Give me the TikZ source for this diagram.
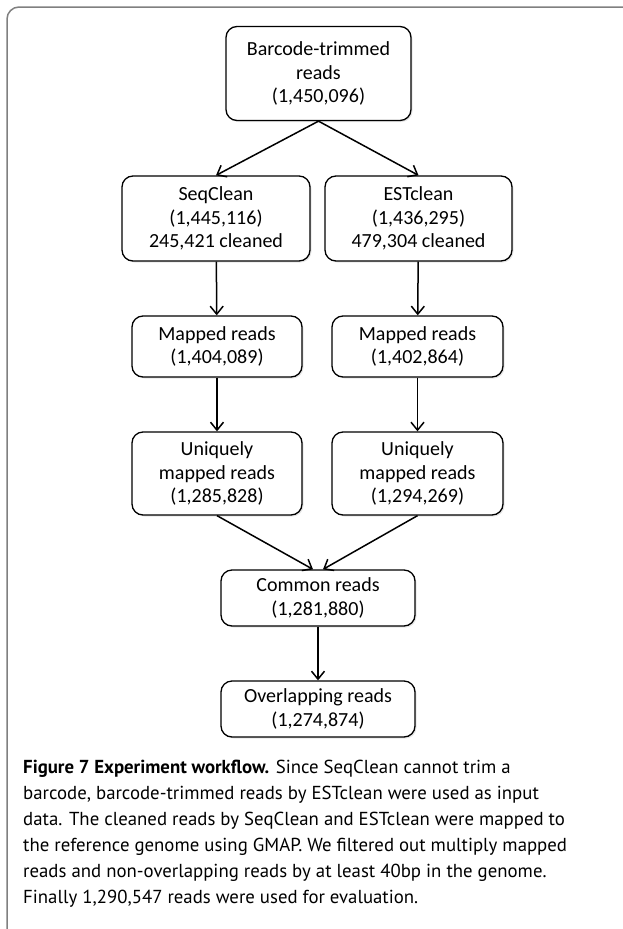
\documentclass[tikz,border=0pt]{standalone}
\usepackage{fontspec}
\setmainfont{Carlito}
\newfontfamily\captionfamily{PT Sans}
\usetikzlibrary{arrows.meta,shadows}

\begin{document}
\begin{tikzpicture}[x=1pt,y=-1pt]

%
% Styles
%
\tikzstyle{readbox}  = [draw=black,line width=1.3pt,rounded corners=11pt,fill=white,
                        align=center,inner sep=0pt,font=\fontsize{20}{23.7}\selectfont,
                        drop shadow={opacity=0.2,shadow xshift=1.5pt,shadow yshift=-1.5pt}]
\tikzstyle{flow}     = [-{Straight Barb[length=8pt,width=13pt,line width=1.5pt]},line width=1.5pt]
\tikzstyle{frame}    = [draw=black!50,line width=1.5pt,rounded corners=12pt]
\tikzstyle{caption}  = [align=left,inner sep=0pt,anchor=north west,
                        font=\captionfamily\fontsize{18.8}{26}\selectfont]

\useasboundingbox (0,0) rectangle (622,929);
\draw[frame] (7,945) -- (7,7) -- (640,7);

\node[readbox,minimum width=185pt,minimum height=94pt] (trimmed) at (318.5, 73.5)
  {Barcode-trimmed\\reads\\(1,450,096)};
\node[readbox,minimum width=188pt,minimum height=85pt] (seqclean) at (216,218.5)
  {SeqClean\\(1,445,116)\\245,421 cleaned};
\node[readbox,minimum width=187pt,minimum height=85pt] (estclean) at (418.5,218.5)
  {ESTclean\\(1,436,295)\\479,304 cleaned};
\node[readbox,minimum width=170pt,minimum height=61pt] (mapseq)   at (217,346.5)
  {Mapped reads\\(1,404,089)};
\node[readbox,minimum width=171pt,minimum height=61pt] (mapest)   at (417.5,346.5)
  {Mapped reads\\(1,402,864)};
\node[readbox,minimum width=170pt,minimum height=83pt] (uniqseq)  at (217,473.5)
  {Uniquely\\mapped reads\\(1,285,828)};
\node[readbox,minimum width=171pt,minimum height=83pt] (uniqest)  at (417.5,473.5)
  {Uniquely\\mapped reads\\(1,294,269)};
\node[readbox,minimum width=194pt,minimum height=56pt] (common)   at (318,598)
  {Common reads\\(1,281,880)};
\node[readbox,minimum width=194pt,minimum height=56pt] (overlap)  at (318,709)
  {Overlapping reads\\(1,274,874)};

\draw[flow] (trimmed.south) -- (seqclean.north);
\draw[flow] (trimmed.south) -- (estclean.north);
\draw[flow] (seqclean) -- (mapseq);
\draw[flow] (estclean) -- (mapest);
\draw[flow] (mapseq)   -- (uniqseq);
\draw[flow] (mapest)   -- (uniqest);
\draw[flow] (uniqseq.south) -- ([xshift=-5pt]common.north);
\draw[flow] (uniqest.south) -- ([xshift=5pt]common.north);
\draw[flow] (common)   -- (overlap);

\node[caption] (cap) at (23,760)
  {\textbf{Figure 7 Experiment workflow.} Since SeqClean cannot trim a\\
   barcode, barcode-trimmed reads by ESTclean were used as input\\
   data. The cleaned reads by SeqClean and ESTclean were mapped to\\
   the reference genome using GMAP. We filtered out multiply mapped\\
   reads and non-overlapping reads by at least 40bp in the genome.\\
   Finally 1,290,547 reads were used for evaluation.};

\end{tikzpicture}
\end{document}
